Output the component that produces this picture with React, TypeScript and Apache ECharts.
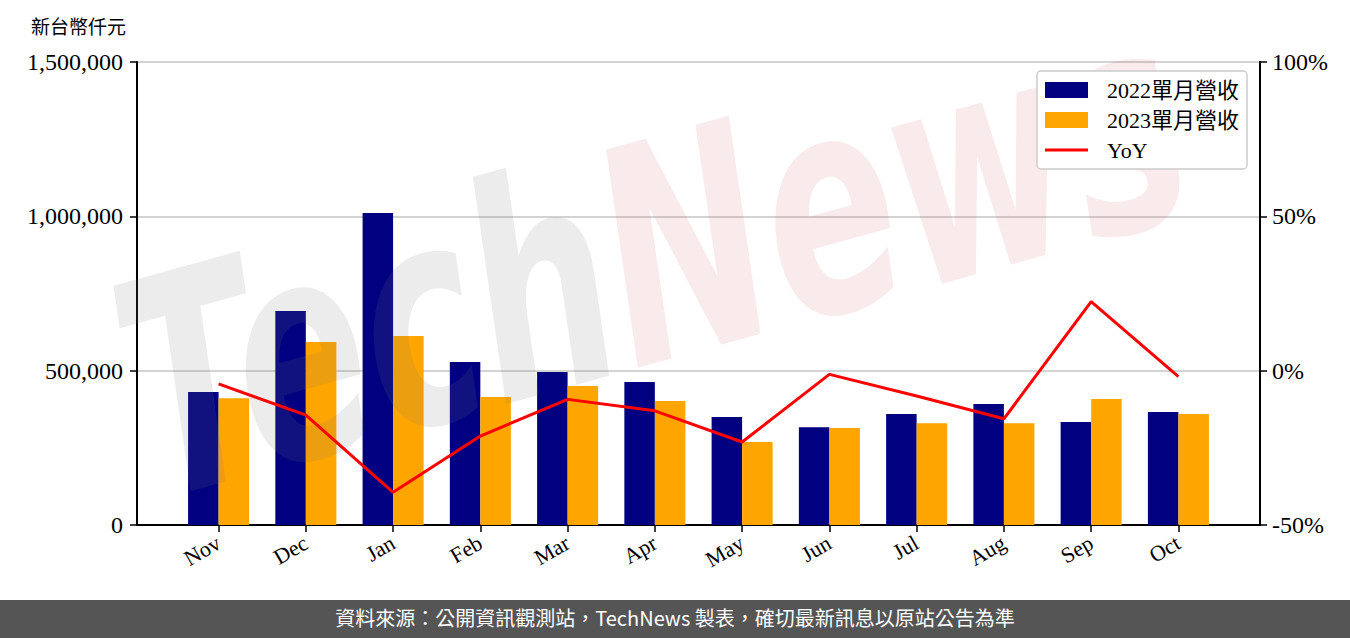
import React, { useEffect, useRef } from "react";
import * as echarts from "echarts";

const months = ["Nov", "Dec", "Jan", "Feb", "Mar", "Apr", "May", "Jun", "Jul", "Aug", "Sep", "Oct"];
const rev2022 = [431000, 693000, 1011000, 528000, 496000, 463000, 350000, 317000, 360000, 392000, 334000, 366000];
const rev2023 = [411000, 593000, 612000, 415000, 450000, 402000, 269000, 314000, 330000, 330000, 408000, 360000];
const yoy = [-4.3, -14.4, -39.4, -21.2, -9.3, -13.0, -23.1, -1.2, -8.2, -15.6, 22.4, -1.9];
const seriesNames = ["2022單月營收", "2023單月營收", "YoY"];

const SERIF = "'Liberation Serif', 'Noto Sans CJK TC', serif";
const CJK = "'Noto Sans CJK TC', sans-serif";

export default function App() {
  const ref = useRef<HTMLDivElement>(null);
  useEffect(() => {
    document.body.style.margin = "0";
    const chart = echarts.init(ref.current!, null, { renderer: "svg" });
    const half = 0.175;
    chart.setOption({
      animation: false,
      backgroundColor: "#fff",
      grid: { left: 137, right: 90, top: 62, bottom: 113, show: true, borderColor: "#000", borderWidth: 2 },
      legend: {
        orient: "vertical",
        right: 103,
        top: 71,
        z: 10,
        data: [
          { name: seriesNames[0], icon: "rect" },
          { name: seriesNames[1], icon: "rect" },
          { name: seriesNames[2], icon: "path://M0,0L43,0L43,3L0,3Z" },
        ],
        itemWidth: 43,
        itemHeight: 16,
        itemGap: 8,
        padding: [8, 8, 8, 8],
        backgroundColor: "#fff",
        borderColor: "#cccccc",
        borderWidth: 1.5,
        borderRadius: 4,
        textStyle: { fontFamily: SERIF, fontSize: 22, color: "#000", padding: [0, 0, 0, 14] },
      },
      xAxis: {
        type: "value",
        min: -0.935,
        max: 11.935,
        axisLine: { show: true, onZero: false, lineStyle: { color: "#000", width: 2 } },
        axisTick: { show: true, length: 7, customValues: months.map((_, i) => i), lineStyle: { color: "#000", width: 1.5 } },
        axisLabel: {
          customValues: months.map((_, i) => i),
          formatter: (v: number) => months[Math.round(v)] ?? "",
          rotate: 30,
          fontFamily: SERIF,
          fontSize: 22,
          color: "#000",
          margin: 16,
        },
        splitLine: { show: false },
      },
      yAxis: [
        {
          type: "value",
          min: 0,
          max: 1500000,
          interval: 500000,
          axisLine: { show: true, onZero: false, lineStyle: { color: "#000", width: 2 } },
          axisTick: { show: true, length: 7, lineStyle: { color: "#000", width: 1.5 } },
          axisLabel: {
            formatter: (v: number) => v.toLocaleString("en-US"),
            fontFamily: SERIF,
            fontSize: 24,
            color: "#000",
            margin: 14,
          },
          splitLine: { show: true, lineStyle: { color: "#d3d3d3", width: 2 } },
        },
        {
          type: "value",
          min: -50,
          max: 100,
          interval: 50,
          position: "right",
          axisLine: { show: true, onZero: false, lineStyle: { color: "#000", width: 2 } },
          axisTick: { show: true, length: 7, lineStyle: { color: "#000", width: 1.5 } },
          axisLabel: { formatter: (v: number) => `${v}%`, fontFamily: SERIF, fontSize: 24, color: "#000", margin: 12 },
          splitLine: { show: false },
        },
      ],
      series: [
        {
          name: seriesNames[0],
          type: "bar",
          data: rev2022.map((v, i) => [i - half, v]),
          barWidth: 30.5,
          barGap: "-100%",
          itemStyle: { color: "#000080" },
        },
        {
          name: seriesNames[1],
          type: "bar",
          data: rev2023.map((v, i) => [i + half, v]),
          barWidth: 30.5,
          barGap: "-100%",
          itemStyle: { color: "#FFA500" },
        },
        {
          name: seriesNames[2],
          type: "line",
          yAxisIndex: 1,
          data: yoy.map((v, i) => [i, v]),
          symbol: "none",
          lineStyle: { color: "#ff0000", width: 3 },
          itemStyle: { color: "#ff0000" },
          z: 5,
        },
      ],
      graphic: [
        {
          type: "text",
          left: 31,
          top: 16,
          style: { text: "新台幣仟元", font: `19px ${CJK}`, fill: "#000" },
        },
        {
          type: "text",
          z: 3,
          x: 170,
          y: 545,
          rotation: 0.27,
          scaleX: 0.65,
          style: {
            text: "{a|Tech}{b|News}",
            textVerticalAlign: "bottom",
            rich: {
              a: { fontSize: 300, fontStyle: "italic", fontWeight: "bold", fontFamily: "'DejaVu Sans'", fill: "rgba(120,120,120,0.14)" },
              b: { fontSize: 300, fontStyle: "italic", fontWeight: "bold", fontFamily: "'DejaVu Sans'", fill: "rgba(200,50,70,0.1)" },
            },
          },
        },
        {
          type: "rect",
          left: 0,
          top: 600,
          shape: { width: 1350, height: 38 },
          style: { fill: "#555555" },
          z: 101,
        },
        {
          type: "text",
          left: "center",
          top: 607,
          z: 102,
          style: {
            text: "資料來源：公開資訊觀測站，TechNews 製表，確切最新訊息以原站公告為準",
            font: `20px ${CJK}`,
            fill: "#fff",
          },
        },
      ],
    });
    return () => chart.dispose();
  }, []);
  return <div ref={ref} style={{ width: 1350, height: 638 }} />;
}
